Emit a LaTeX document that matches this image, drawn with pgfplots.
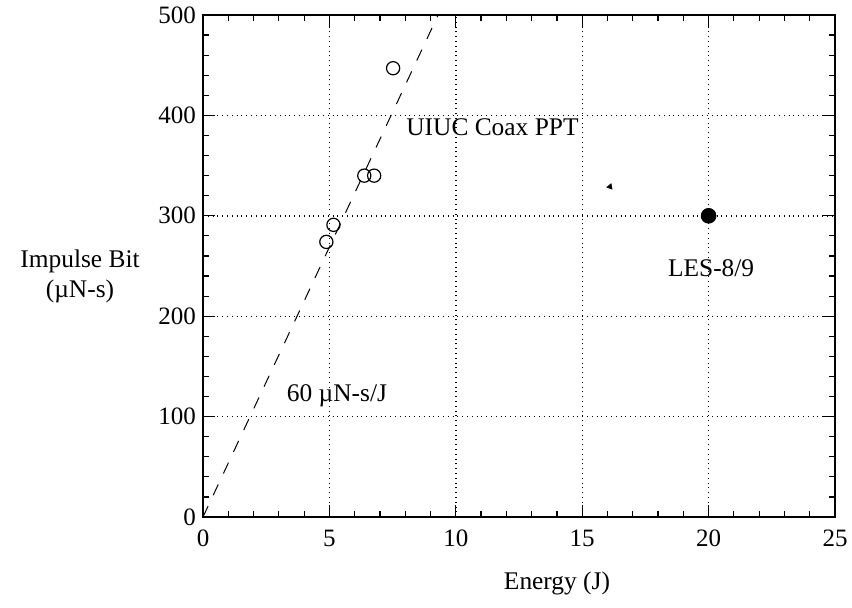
\documentclass[border=0pt]{standalone}
\usepackage{pgfplots}
\pgfplotsset{compat=1.18}
\usepackage{fontspec}
\setmainfont{Liberation Serif}
\begin{document}
\begin{tikzpicture}[font=\fontsize{12.7}{15}\selectfont]
\path[use as bounding box] (0,0) rectangle (426pt,303.5pt);
\begin{axis}[
  at={(101.5pt,45pt)}, anchor=south west,
  scale only axis, width=316pt, height=251pt,
  xmin=0, xmax=25, ymin=0, ymax=500,
  xtick={0,5,...,25}, ytick={0,100,...,500},
  minor x tick num=4, minor y tick num=4,
  major tick length=6pt, minor tick length=2.8pt,
  tick style={black, line width=0.6pt},
  axis line style={line width=0.8pt},
  grid=major,
  major grid style={black, dotted, line width=0.7pt},
  /pgf/number format/assume math mode=true,
  ticklabel style={font=\fontsize{12.5}{14}\selectfont},
  xticklabel style={yshift=-3pt},
  clip=false,
]
\addplot[black, dashed, dash pattern=on 6pt off 6pt, line width=0.5pt] coordinates {(0,0) (9.3,500)};
\addplot[only marks, mark=o, mark size=3.3pt, mark options={line width=0.6pt}, black] coordinates {
(7.52,447) (6.38,340) (6.77,340) (5.16,291) (4.88,274)};
\addplot[only marks, mark=*, mark size=3.7pt, black] coordinates {(20,300)};
\addplot[only marks, mark=triangle*, mark size=1.5pt, black, mark options={rotate=100}] coordinates {(16.1,329)};
\node at (axis cs:11.45,388) {UIUC Coax PPT};
\node at (axis cs:20.1,248) {LES-8/9};
\node at (axis cs:5.3,121) {60 µN-s/J};
\end{axis}
\node[align=center] at (40pt,165.5pt) {Impulse Bit\\(µN-s)};
\node at (278.5pt,12pt) {Energy (J)};
\end{tikzpicture}
\end{document}
